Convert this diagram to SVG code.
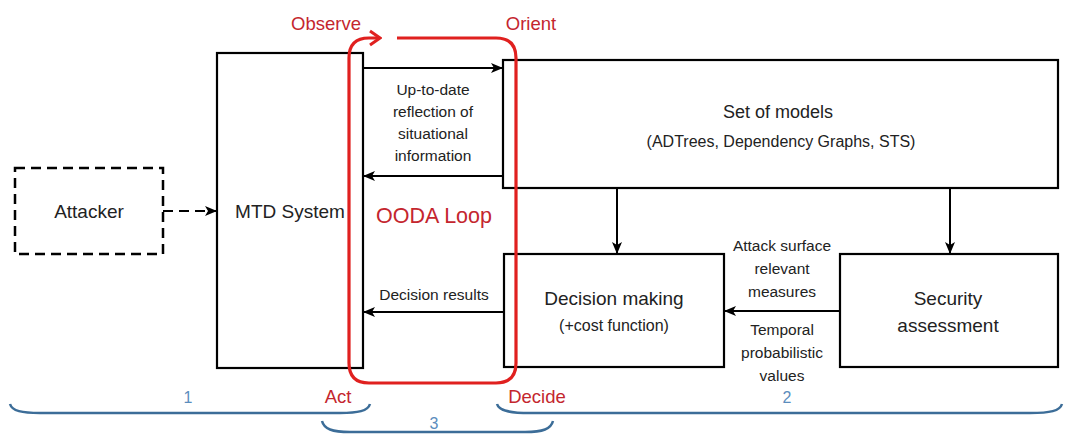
<svg xmlns="http://www.w3.org/2000/svg" width="1065" height="434" viewBox="0 0 1065 434">
<defs>
<style>
text{font-family:"Liberation Sans",Arial,sans-serif;fill:#222;text-anchor:middle}
.box{fill:#fff;stroke:#000;stroke-width:2.2}
.dash{fill:#fff;stroke:#000;stroke-width:2.5;stroke-dasharray:10 6}
.conn{fill:none;stroke:#000;stroke-width:2}
.red{fill:none;stroke:#e0201f;stroke-width:3.2}
.rt{fill:#c4262e;font-size:18.5px}
.brace{fill:none;stroke:#3c6d98;stroke-width:2.5}
.bt{fill:#5b8dbd;font-size:16px}
.t18{font-size:18px}
.t19{font-size:19px}
.t16{font-size:16px}
.t15{font-size:15.5px}
</style>
<marker id="ah" markerWidth="12" markerHeight="10" refX="11" refY="5" orient="auto" markerUnits="userSpaceOnUse">
<path d="M0,0 L12,5 L0,10 L3,5 Z" fill="#000"/>
</marker>
<marker id="ch" markerWidth="14" markerHeight="18" refX="12" refY="9" orient="auto" markerUnits="userSpaceOnUse">
<path d="M2,2 L12,9 L2,16" fill="none" stroke="#e0201f" stroke-width="3"/>
</marker>
</defs>
<rect width="1065" height="434" fill="#fff"/>

<g id="attacker">
<rect class="dash" x="15" y="168" width="148" height="86"/>
<text class="t19" x="89" y="218">Attacker</text>
</g>
<g id="mtd">
<rect class="box" x="217" y="53" width="146" height="315"/>
<text class="t19" x="290" y="218">MTD System</text>
</g>
<g id="models">
<rect class="box" x="503" y="60" width="555" height="128"/>
<text class="t18" x="778" y="118">Set of models</text>
<text class="t16" x="781" y="147">(ADTrees, Dependency Graphs, STS)</text>
</g>
<g id="decision">
<rect class="box" x="504" y="254" width="220" height="113"/>
<text class="t19" x="614" y="305">Decision making</text>
<text class="t16" x="614" y="331">(+cost function)</text>
</g>
<g id="security">
<rect class="box" x="840" y="254" width="218" height="113"/>
<text class="t19" x="948" y="305">Security</text>
<text class="t19" x="948" y="332">assessment</text>
</g>

<g id="connectors">
<line class="conn" x1="163" y1="211" x2="216" y2="211" stroke-dasharray="10 6" marker-end="url(#ah)"/>
<line class="conn" x1="363" y1="68" x2="502" y2="68" marker-end="url(#ah)"/>
<line class="conn" x1="503" y1="176" x2="364" y2="176" marker-end="url(#ah)"/>
<line class="conn" x1="504" y1="312" x2="364" y2="312" marker-end="url(#ah)"/>
<line class="conn" x1="617" y1="188" x2="617" y2="253" marker-end="url(#ah)"/>
<line class="conn" x1="950" y1="188" x2="950" y2="253" marker-end="url(#ah)"/>
<line class="conn" x1="840" y1="311" x2="725" y2="311" marker-end="url(#ah)"/>
<text class="t15" x="433" y="95">Up-to-date</text>
<text class="t15" x="433" y="117">reflection of</text>
<text class="t15" x="433" y="139">situational</text>
<text class="t15" x="433" y="161">information</text>
<text class="t15" x="434" y="300">Decision results</text>
<text class="t15" x="782" y="251">Attack surface</text>
<text class="t15" x="782" y="274">relevant</text>
<text class="t15" x="782" y="297">measures</text>
<text class="t15" x="782" y="335">Temporal</text>
<text class="t15" x="782" y="358">probabilistic</text>
<text class="t15" x="782" y="381">values</text>
</g>

<g id="ooda">
<path class="red" d="M397,38 L496,38 Q516,38 516,58 L516,363 Q516,383 496,383 L369,383 Q349,383 349,363 L349,58 Q349,38 369,38 L380,38" marker-end="url(#ch)"/>
<text class="rt" x="434" y="223" style="font-size:21.5px">OODA Loop</text>
<text class="rt" x="326" y="30">Observe</text>
<text class="rt" x="531" y="30">Orient</text>
<text class="rt" x="338" y="403">Act</text>
<text class="rt" x="537" y="403">Decide</text>
</g>

<g id="braces">
<path class="brace" d="M10,404 C12,411 22,413 40,413 L340,413 C358,413 368,411 370,404"/>
<path class="brace" d="M497,404 C499,411 510,413 530,413 L1030,413 C1050,413 1060,411 1062,404"/>
<path class="brace" d="M322,421 C324,429 332,432 350,432 L525,432 C543,432 551,429 553,421"/>
<text class="bt" x="188" y="403">1</text>
<text class="bt" x="787" y="403">2</text>
<text class="bt" x="434" y="429">3</text>
</g>
</svg>
